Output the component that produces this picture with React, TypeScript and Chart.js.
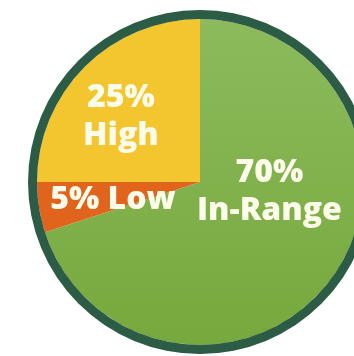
import React, { useEffect, useRef } from "react";
import { Chart, registerables } from "chart.js";

Chart.register(...registerables);

// Time-in-range breakdown
const CATEGORIES = ["In-Range", "Low", "High"];
const VALUES = [70, 5, 25];
const SLICE_COLORS = ["#7fae45", "#e0641c", "#f3c630"];
const RIM_COLOR = "#2c5b46";
const LABEL_COLOR = "#fdfbea";

// Where each label sits inside its slice: fraction along the arc, fraction of radius,
// and whether the name goes on its own line under the percentage.
const LABEL_ANGLE_FRAC = [0.39, 0.36, 0.44];
const LABEL_RADIUS_FRAC = [0.43, 0.545, 0.63];
const LABEL_STACKED = [true, false, true];

const FONT = "800 32px 'Open Sans', 'DejaVu Sans', sans-serif";
const LINE_GAP = 38;

const sliceLabels = {
  id: "sliceLabels",
  afterDatasetsDraw(chart: any) {
    const meta = chart.getDatasetMeta(1);
    const ctx = chart.ctx;
    ctx.save();
    ctx.font = FONT;
    ctx.fillStyle = LABEL_COLOR;
    ctx.textAlign = "center";
    ctx.textBaseline = "middle";
    meta.data.forEach((arc: any, i: number) => {
      const { x, y, startAngle, endAngle, outerRadius } = arc.getProps(
        ["x", "y", "startAngle", "endAngle", "outerRadius"],
        true
      );
      const a = startAngle + (endAngle - startAngle) * LABEL_ANGLE_FRAC[i];
      const r = outerRadius * LABEL_RADIUS_FRAC[i];
      const cx = x + Math.cos(a) * r;
      const cy = y + Math.sin(a) * r;
      const pct = `${VALUES[i]}%`;
      if (LABEL_STACKED[i]) {
        ctx.fillText(pct, cx, cy - LINE_GAP / 2);
        ctx.fillText(CATEGORIES[i], cx, cy + LINE_GAP / 2);
      } else {
        ctx.fillText(`${pct} ${CATEGORIES[i]}`, cx, cy);
      }
    });
    ctx.restore();
  },
};

export default function App() {
  const canvasRef = useRef<HTMLCanvasElement | null>(null);

  useEffect(() => {
    if (!canvasRef.current) return;
    const chart = new Chart(canvasRef.current, {
      type: "doughnut",
      data: {
        labels: CATEGORIES,
        datasets: [
          {
            // dark rim around the whole pie
            data: [100],
            backgroundColor: [RIM_COLOR],
            borderWidth: 0,
            weight: 9,
          },
          {
            data: VALUES,
            backgroundColor: (c: any) => {
              const i = c.dataIndex;
              if (i === 0 && c.chart.chartArea) {
                const { top, bottom } = c.chart.chartArea;
                const g = c.chart.ctx.createLinearGradient(0, top, 0, bottom);
                g.addColorStop(0, "#8dbb5d");
                g.addColorStop(1, "#76a83c");
                return g;
              }
              return SLICE_COLORS[i];
            },
            borderWidth: 0,
            weight: 163,
          },
        ],
      },
      options: {
        animation: false,
        responsive: true,
        maintainAspectRatio: false,
        cutout: 0,
        layout: { padding: 10 },
        plugins: {
          legend: { display: false },
          tooltip: { enabled: false },
        },
      },
      plugins: [sliceLabels],
    });
    return () => chart.destroy();
  }, []);

  return (
    <div
      style={{
        position: "fixed",
        left: 0,
        top: 0,
        width: 354,
        height: 356,
        overflow: "hidden",
        background: "#ffffff",
      }}
    >
      <div style={{ position: "absolute", left: 0, top: 0, width: 400, height: 364 }}>
        <canvas ref={canvasRef} />
      </div>
    </div>
  );
}
